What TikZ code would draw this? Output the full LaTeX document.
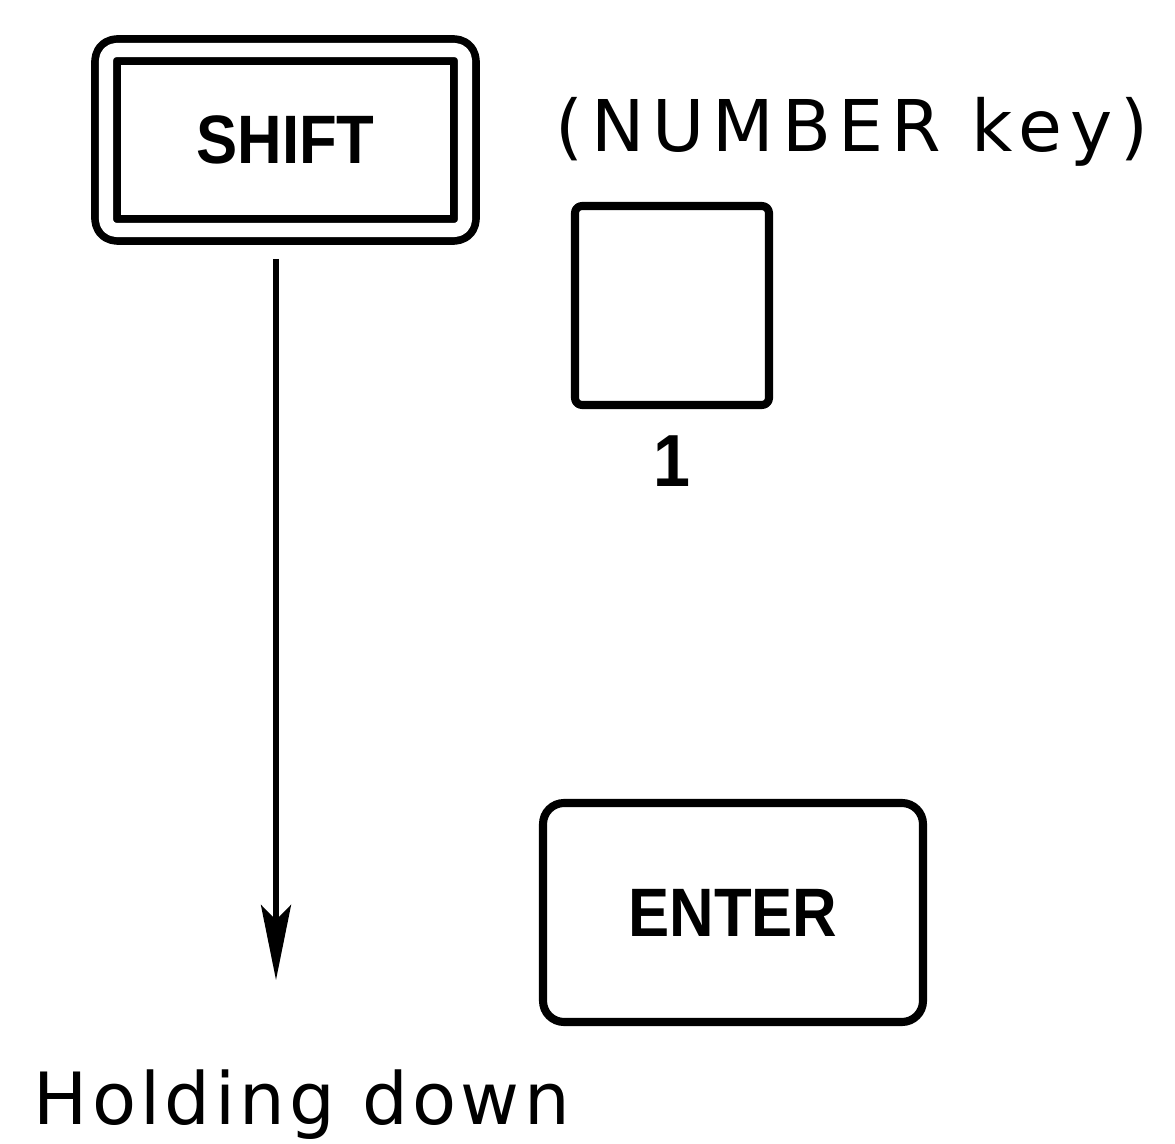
\documentclass[tikz,border=0pt]{standalone}
\usepackage{fontspec}
\setmainfont{DejaVu Sans}
\newfontfamily\keyfont[FakeStretch=0.9]{Liberation Sans}
\newfontfamily\labelfont[LetterSpace=11]{DejaVu Sans}
\usetikzlibrary{positioning,arrows.meta}

\begin{document}
\begin{tikzpicture}[line join=round]
      \tikzset{
	  keycap/.style={rectangle,rounded corners=4pt,draw=black,line width=2.3pt,inner sep=0pt,font=\keyfont\bfseries\fontsize{19.5}{22}\selectfont},
	  shiftcap/.style={keycap,double,double distance=4pt,line width=2.2pt,rounded corners=3pt},
	  caption/.style={inner sep=0pt,anchor=base west,font=\labelfont\fontsize{20.3}{24}\selectfont},
	  holdarrow/.style={line width=1.6pt,-{Stealth[length=7.5mm,width=3mm,inset=1.5mm]}}
      }
      \useasboundingbox (0,0) rectangle (11.75,-11.44);
      \node at (2.855,-1.40) [shiftcap,minimum width=3.59cm,minimum height=1.80cm] (shift) {SHIFT};
      \node at (6.72,-3.055) [keycap,rounded corners=2pt,minimum width=1.94cm,minimum height=1.99cm] (numkey) {};
      \node at (6.72,-4.87) [inner sep=0pt,anchor=base,font=\keyfont\bfseries\fontsize{21}{24}\selectfont] (numlabel) {1};
      \node at (7.33,-9.125) [keycap,rounded corners=6pt,minimum width=3.80cm,minimum height=2.19cm] (enter) {ENTER};

      \node at (5.55,-1.52) [caption] (numcaption) {(NUMBER key)};
      \node at (0.33,-11.24) [caption,font=\labelfont\fontsize{20.5}{24}\selectfont\addfontfeatures{LetterSpace=6}] (holdcaption) {Holding down};

      \coordinate (holdtip) at (2.76,-9.80);
      \draw[holdarrow,shorten <=2.5mm] (shift.south -| holdtip) -- (holdtip);
    \end{tikzpicture}
\end{document}
